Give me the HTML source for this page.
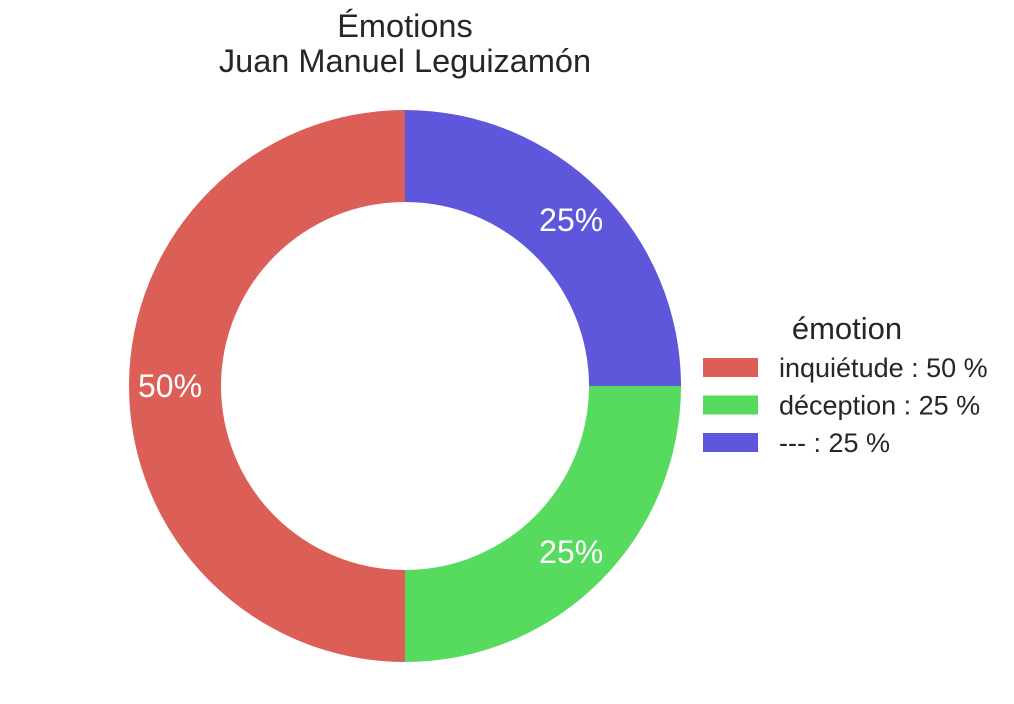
<!DOCTYPE html>
<html><head><meta charset="utf-8"><style>
body{margin:0;background:#fff}
svg{display:block;font-family:"Liberation Sans",Arial,sans-serif}
</style></head><body>
<svg width="1014" height="704" viewBox="0 0 1014 704">
<text x="405" y="37" font-size="32.5" fill="#262626" text-anchor="middle">Émotions</text>
<text x="405" y="72" font-size="32.5" fill="#262626" text-anchor="middle">Juan Manuel Leguizamón</text>
<g id="slices"></g>
<g id="legend">
<text x="847" y="339" font-size="31" fill="#262626" text-anchor="middle">émotion</text>
</g>
</svg>
<script>
const categories = ["inquiétude", "déception", "---"];
const values = [50, 25, 25];
const colors = ["#db5f57", "#57db5f", "#5f57db"];
const cx = 405, cy = 386, R = 276, r = 184, labelR = 235;
const g = document.getElementById('slices');
const ns = "http://www.w3.org/2000/svg";
const total = values.reduce((a,b)=>a+b,0);
let ang = 90;
function pt(a, rad){ const t = a*Math.PI/180; return [cx + rad*Math.cos(t), cy - rad*Math.sin(t)]; }
values.forEach((v,i)=>{
  const sweep = v/total*360;
  const a0 = ang, a1 = ang + sweep;
  const large = sweep > 180 ? 1 : 0;
  const p0 = pt(a0,R), p1 = pt(a1,R), q1 = pt(a1,r), q0 = pt(a0,r);
  const d = `M${p0[0]},${p0[1]} A${R},${R} 0 ${large} 0 ${p1[0]},${p1[1]} L${q1[0]},${q1[1]} A${r},${r} 0 ${large} 1 ${q0[0]},${q0[1]} Z`;
  const path = document.createElementNS(ns,'path');
  path.setAttribute('d', d);
  path.setAttribute('fill', colors[i]);
  
  
  g.appendChild(path);
  const mid = (a0+a1)/2;
  const lp = pt(mid, labelR);
  const t = document.createElementNS(ns,'text');
  t.setAttribute('x', lp[0]); t.setAttribute('y', lp[1] + 11);
  t.setAttribute('text-anchor', 'middle');
  t.setAttribute('font-size', '32'); t.setAttribute('fill', '#fff');
  t.textContent = Math.round(v/total*100) + '%';
  
  
  g.appendChild(t);
  ang = a1;
});
const lg = document.getElementById('legend');
categories.forEach((c,i)=>{
  const y = 358 + i*37.5;
  const rect = document.createElementNS(ns,'rect');
  rect.setAttribute('x', 703); rect.setAttribute('y', y);
  rect.setAttribute('width', 55); rect.setAttribute('height', 19);
  rect.setAttribute('fill', colors[i]);
  
  
  lg.appendChild(rect);
  const t = document.createElementNS(ns,'text');
  t.setAttribute('x', 779); t.setAttribute('y', y + 19);
  t.setAttribute('font-size', '27'); t.setAttribute('fill', '#262626');
  t.textContent = c + ' : ' + Math.round(values[i]/total*100) + ' %';
  
  
  lg.appendChild(t);
});
</script>
</body></html>
